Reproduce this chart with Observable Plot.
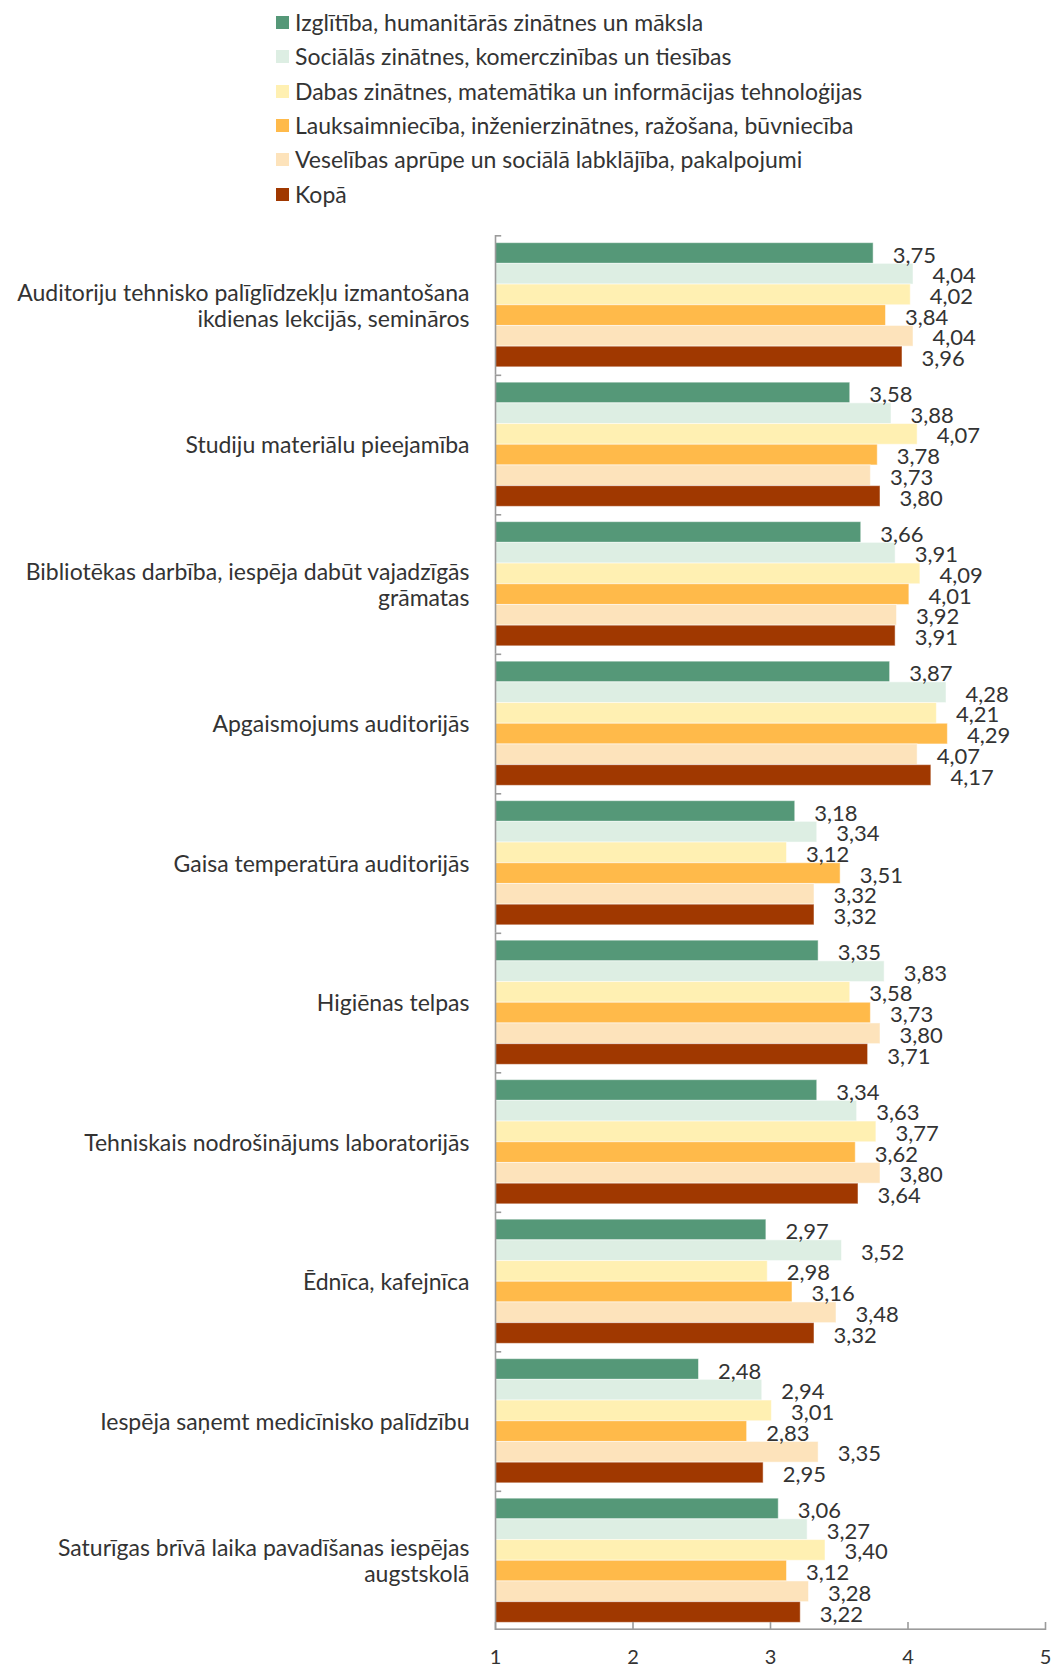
<!DOCTYPE html>
<html><head><meta charset="utf-8">
<script src="https://cdn.jsdelivr.net/npm/d3@7"></script>
<script src="https://cdn.jsdelivr.net/npm/@observablehq/plot@0.6"></script>
<style>
body{margin:0;background:#fff;font-family:Lato, sans-serif;color:#333}
#legend{position:relative;height:205px;width:1052px}
.item{position:absolute;left:276px;height:24px;display:flex;align-items:center;font-size:23px;line-height:1;white-space:nowrap}
.sw{width:13px;height:13px;margin-right:6px;flex:none}
#chart svg{display:block}
</style></head><body>
<div id="legend"></div><div id="chart"></div>
<script>
const categories = [
  "Auditoriju tehnisko palīglīdzekļu izmantošana ikdienas lekcijās, semināros",
  "Studiju materiālu pieejamība",
  "Bibliotēkas darbība, iespēja dabūt vajadzīgās grāmatas",
  "Apgaismojums auditorijās",
  "Gaisa temperatūra auditorijās",
  "Higiēnas telpas",
  "Tehniskais nodrošinājums laboratorijās",
  "Ēdnīca, kafejnīca",
  "Iespēja saņemt medicīnisko palīdzību",
  "Saturīgas brīvā laika pavadīšanas iespējas augstskolā"
];
const categoryLabels = [
  "Auditoriju tehnisko palīglīdzekļu izmantošana\nikdienas lekcijās, semināros",
  "Studiju materiālu pieejamība",
  "Bibliotēkas darbība, iespēja dabūt vajadzīgās\ngrāmatas",
  "Apgaismojums auditorijās",
  "Gaisa temperatūra auditorijās",
  "Higiēnas telpas",
  "Tehniskais nodrošinājums laboratorijās",
  "Ēdnīca, kafejnīca",
  "Iespēja saņemt medicīnisko palīdzību",
  "Saturīgas brīvā laika pavadīšanas iespējas\naugstskolā"
];
const series = [
  "Izglītība, humanitārās zinātnes un māksla",
  "Sociālās zinātnes, komerczinības un tiesības",
  "Dabas zinātnes, matemātika un informācijas tehnoloģijas",
  "Lauksaimniecība, inženierzinātnes, ražošana, būvniecība",
  "Veselības aprūpe un sociālā labklājība, pakalpojumi",
  "Kopā"
];
const colors = ["#559878", "#ddeee3", "#fff0b2", "#ffba4a", "#fde3bb", "#a03800"];

const izglitiba = [3.75, 3.58, 3.66, 3.87, 3.18, 3.35, 3.34, 2.97, 2.48, 3.06];
const socialas  = [4.04, 3.88, 3.91, 4.28, 3.34, 3.83, 3.63, 3.52, 2.94, 3.27];
const dabas     = [4.02, 4.07, 4.09, 4.21, 3.12, 3.58, 3.77, 2.98, 3.01, 3.40];
const lauks     = [3.84, 3.78, 4.01, 4.29, 3.51, 3.73, 3.62, 3.16, 2.83, 3.12];
const veselibas = [4.04, 3.73, 3.92, 4.07, 3.32, 3.80, 3.80, 3.48, 3.35, 3.28];
const kopa      = [3.96, 3.80, 3.91, 4.17, 3.32, 3.71, 3.64, 3.32, 2.95, 3.22];
const xTicks = [1, 2, 3, 4, 5];

const seriesValues = [izglitiba, socialas, dabas, lauks, veselibas, kopa];
const rows = [];
categories.forEach((c, i) => series.forEach((s, j) => rows.push({category: c, series: s, value: seriesValues[j][i]})));
const labelOf = new Map(categories.map((c, i) => [c, categoryLabels[i]]));
const fmt = v => d3.format(".2f")(v).replace(".", ",");

// legend
const legend = document.getElementById("legend");
const rowTop = [10, 44, 79, 113, 147, 182];
series.forEach((s, j) => {
  const it = document.createElement("div");
  it.className = "item";
  it.style.top = rowTop[j] + "px";
  it.innerHTML = `<span class="sw" style="background:${colors[j]}"></span><span>${s}</span>`;
  legend.appendChild(it);
});

const W = 1052, H = 1463, mT = 30, mB = 38, mL = 495, mR = 7;
const fyStep = (H - mT - mB) / categories.length;
const last = categories[categories.length - 1];
const axisColor = "#9b9b9b";

const chart = Plot.plot({
  width: W, height: H,
  marginTop: mT, marginBottom: mB, marginLeft: mL, marginRight: mR,
  style: {fontFamily: "Lato, sans-serif", fontSize: "21px", color: "#333", background: "#fff"},
  x: {domain: [1, 5]},
  y: {domain: series, paddingInner: 0, paddingOuter: 0.37, round: false, axis: null},
  fy: {domain: categories, padding: 0, round: false},
  color: {domain: series, range: colors},
  marks: [
    Plot.barX(rows, {fy: "category", y: "series", x1: () => 1, x2: "value", fill: "series", stroke: "#fff", strokeOpacity: 0.5, strokeWidth: 1}),
    Plot.text(rows, {fy: "category", y: "series", x: "value", text: d => fmt(d.value), textAnchor: "start", dx: 19, dy: 2, fill: "#333", fontSize: 22}),
    Plot.ruleX([1], {stroke: axisColor, strokeWidth: 1.6}),
    Plot.rect(categories, {fy: d => d, x1: () => 1, x2: () => 1.045, insetBottom: fyStep - 1.6, fill: axisColor}),
    Plot.rect([last], {fy: d => d, x1: () => 1, x2: () => 5, insetTop: fyStep - 1.6, fill: axisColor}),
    Plot.ruleX(xTicks, {x: d => d, fy: () => last, insetTop: fyStep - 8, stroke: axisColor, strokeWidth: 1.6}),
    Plot.axisX({ticks: xTicks, tickSize: 0, tickPadding: 19, tickFormat: d => String(d), fontSize: 20, fill: "#333", label: null}),
    Plot.axisFy({anchor: "left", tickSize: 0, tickPadding: 26, tickFormat: c => labelOf.get(c), lineHeight: 1.15, fontSize: 23, fill: "#333", label: null})
  ]
});
document.getElementById("chart").appendChild(chart);
</script>
</body></html>
